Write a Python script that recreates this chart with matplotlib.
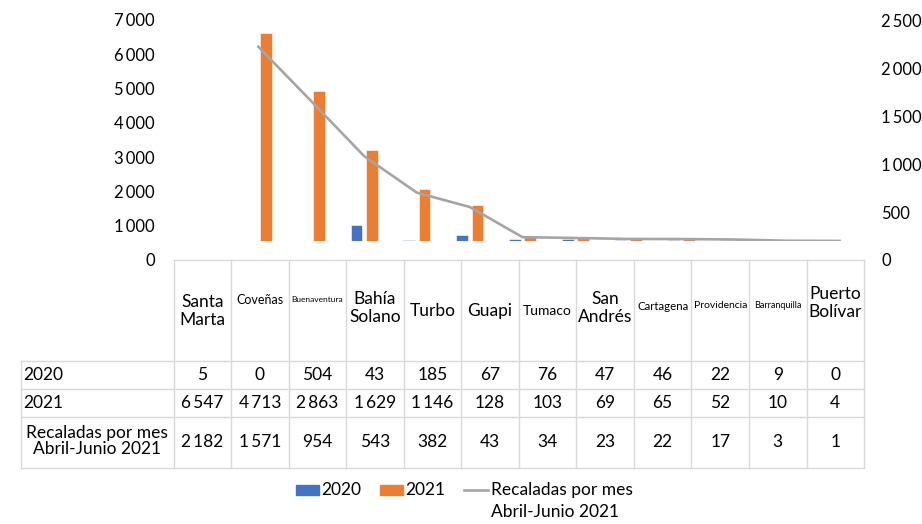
"""Recaladas por puerto: barras 2020/2021, línea de recaladas por mes y tabla de datos."""
import matplotlib
matplotlib.use("Agg")
import matplotlib.pyplot as plt
import numpy as np
from matplotlib.patches import Rectangle

plt.rcParams["font.family"] = ["Lato", "DejaVu Sans"]

# Datos
PUERTOS = ["Santa\nMarta", "Coveñas", "Buenaventura", "Bahía\nSolano", "Turbo", "Guapi",
           "Tumaco", "San\nAndrés", "Cartagena", "Providencia", "Barranquilla",
           "Puerto\nBolívar"]
VALORES_2020 = [5, 0, 504, 43, 185, 67, 76, 47, 46, 22, 9, 0]
VALORES_2021 = [6547, 4713, 2863, 1629, 1146, 128, 103, 69, 65, 52, 10, 4]
RECALADAS_MES = [2182, 1571, 954, 543, 382, 43, 34, 23, 22, 17, 3, 1]
SERIE_LINEA = "Recaladas por mes\nAbril-Junio 2021"

# Estilo del encabezado de la tabla (Excel reduce el texto para que quepa)
TAM_ETIQUETA = [12.5, 9, 6, 12.5, 12.5, 12.5, 10, 12.5, 8.3, 7.5, 6.5, 12.5]
Y_ETIQUETA = [311, 300, 299, 308, 311, 311, 311, 308, 306, 306, 305, 303]

AZUL = "#4472C4"
NARANJA = "#ED7D31"
GRIS = "#A5A5A5"
BORDE = "#D9D9D9"

W, H = 922, 524


def fmt(v):
    return f"{v:,}".replace(",", "\u2009")


def box(x0, y_top, x1, y_bot):
    """Rectángulo en píxeles (origen arriba a la izquierda) -> fracción de figura."""
    return [x0 / W, 1 - y_bot / H, (x1 - x0) / W, (y_bot - y_top) / H]


fig = plt.figure(figsize=(W / 100, H / 100), dpi=100)

# Ejes solo para las etiquetas de los ejes (Excel las coloca desplazadas)
lab = fig.add_axes(box(232, 20, 866, 260))
lab.patch.set_visible(False)
lab.set_ylim(0, 7000)
lab.set_yticks(np.arange(0, 7001, 1000))
lab.set_yticklabels([fmt(v) for v in range(0, 7001, 1000)], fontsize=12)
lab.set_xticks([])
lab.tick_params(axis="y", length=0, pad=55.4)
for s in lab.spines.values():
    s.set_visible(False)
lab2 = lab.twinx()
lab2.set_ylim(0, 2500)
lab2.set_yticks(np.arange(0, 2501, 500))
lab2.set_yticklabels([fmt(v) for v in range(0, 2501, 500)], fontsize=12)
lab2.tick_params(axis="y", length=0, pad=10.8)
for s in lab2.spines.values():
    s.set_visible(False)

# Gráfico principal
ax = fig.add_axes(box(232, 18.5, 866, 241))
ax.patch.set_visible(False)
x = np.arange(len(PUERTOS))
ax.bar(x - 0.145, VALORES_2020, 0.22, color=AZUL, edgecolor="white", linewidth=0.4)
ax.bar(x + 0.145, VALORES_2021, 0.22, color=NARANJA, edgecolor="white", linewidth=0.4)
ax.set_xlim(-0.5, len(PUERTOS) - 0.5)
ax.set_ylim(0, 7000)
ax.axis("off")

ax2 = ax.twinx()
ax2.plot(x, RECALADAS_MES, color=GRIS, linewidth=1.9)
ax2.set_ylim(0, 2500)
ax2.axis("off")

# Tabla de datos en coordenadas de píxel
tab = fig.add_axes([0, 0, 1, 1])
tab.set_xlim(0, W)
tab.set_ylim(H, 0)
tab.axis("off")

col_x = 173.5 + 57.55 * np.arange(len(PUERTOS) + 1)
centros = (col_x[:-1] + col_x[1:]) / 2
left_x = 20.7

tab.plot([col_x[0], col_x[-1]], [260, 260], color=BORDE, lw=1)
for yy in [361, 389.3, 416.7, 468.3]:
    tab.plot([left_x, col_x[-1]], [yy, yy], color=BORDE, lw=1)
tab.plot([left_x, left_x], [361, 468.3], color=BORDE, lw=1)
for xx in col_x:
    tab.plot([xx, xx], [260, 468.3], color=BORDE, lw=1)

for cx, nombre, tam, yy in zip(centros, PUERTOS, TAM_ETIQUETA, Y_ETIQUETA):
    tab.text(cx, yy, nombre, ha="center", va="center", fontsize=tam,
             linespacing=1.1, multialignment="center")

filas = [(375, VALORES_2020), (403, VALORES_2021), (442, RECALADAS_MES)]
for yy, vals in filas:
    for cx, v in zip(centros, vals):
        tab.text(cx, yy, fmt(v), ha="center", va="center", fontsize=12.5)

tab.text(23, 375, "2020", ha="left", va="center", fontsize=12.5)
tab.text(23, 403, "2021", ha="left", va="center", fontsize=12.5)
tab.text(97, 441, SERIE_LINEA, ha="center", va="center", fontsize=12.5,
         multialignment="center", linespacing=1.05)

# Leyenda
tab.add_patch(Rectangle((296, 485), 23, 10, color=AZUL))
tab.text(321, 490, "2020", ha="left", va="center", fontsize=12.5)
tab.add_patch(Rectangle((380, 485), 23, 10, color=NARANJA))
tab.text(405, 490, "2021", ha="left", va="center", fontsize=12.5)
tab.plot([464, 488], [490, 490], color=GRIS, lw=1.9)
tab.text(491, 490, SERIE_LINEA.split("\n")[0], ha="left", va="center", fontsize=12.5)
tab.text(491, 512, SERIE_LINEA.split("\n")[1], ha="left", va="center", fontsize=12.5)

fig.savefig("out.png", dpi=100)
